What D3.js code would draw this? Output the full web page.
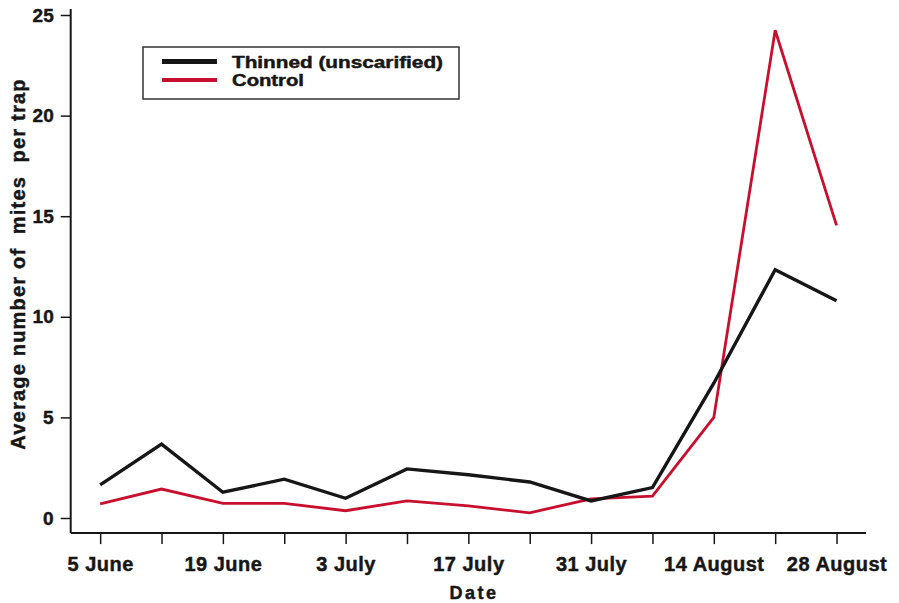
<!DOCTYPE html>
<html>
<head>
<meta charset="utf-8">
<script src="https://cdn.jsdelivr.net/npm/d3@7"></script>
<style>
  html, body { margin: 0; padding: 0; background: #fff; }
  svg { display: block; font-family: "Liberation Sans", Arial, sans-serif; font-weight: bold; }
  .heavy { paint-order: stroke; stroke: #161616; stroke-width: 0.45px; }
</style>
</head>
<body>
<svg id="chart" width="899" height="603"></svg>
<script>
// Weekly sampling dates (5 June to 28 August)
const dates = ["5 June", "12 June", "19 June", "26 June", "3 July", "10 July", "17 July",
               "24 July", "31 July", "7 August", "14 August", "21 August", "28 August"];
// Dates that carry a label on the x axis
const labelledDates = ["5 June", "19 June", "3 July", "17 July", "31 July", "14 August", "28 August"];
// Average number of mites per trap
const thinned = [1.65, 3.67, 1.28, 1.93, 0.98, 2.44, 2.15, 1.79, 0.85, 1.51, 6.7, 12.34, 10.8];
const control = [0.70, 1.44, 0.73, 0.73, 0.36, 0.85, 0.60, 0.26, 0.95, 1.09, 5.0, 24.24, 14.54];
const yTicks = [0, 5, 10, 15, 20, 25];
const seriesNames = ["Thinned (unscarified)", "Control"];

const svg = d3.select("#chart");

const x = d3.scaleLinear().domain([-0.48, dates.length - 1 + 0.48]).range([70.7, 866]);
const y = d3.scaleLinear().domain([0, 25]).range([518, 15]);
const yBottom = -0.75, yTop = 25.3;

const ink = "#161616";
const red = "#c8102e";

// Axis lines
svg.append("line")
  .attr("x1", x(x.domain()[0])).attr("x2", x(x.domain()[0]))
  .attr("y1", y(yTop)).attr("y2", y(yBottom))
  .attr("stroke", ink).attr("stroke-width", 2);
svg.append("line")
  .attr("x1", x(x.domain()[0])).attr("x2", x(x.domain()[1]))
  .attr("y1", y(yBottom)).attr("y2", y(yBottom))
  .attr("stroke", ink).attr("stroke-width", 2);

// Y axis
const yAxis = svg.append("g")
  .attr("transform", `translate(${x(x.domain()[0])},0)`)
  .call(d3.axisLeft(y).tickValues(yTicks).tickSize(10).tickPadding(7).tickFormat(d3.format("d")));
yAxis.select(".domain").remove();
yAxis.selectAll(".tick line").attr("stroke", ink).attr("stroke-width", 1.5);
yAxis.selectAll(".tick text")
  .attr("class", "heavy")
  .attr("fill", ink).attr("font-size", 19).attr("font-weight", "bold")
  .attr("font-family", "Liberation Sans, Arial, sans-serif");

// X axis
const xAxis = svg.append("g")
  .attr("transform", `translate(0,${y(yBottom)})`)
  .call(d3.axisBottom(x).tickValues(d3.range(dates.length)).tickSize(11).tickPadding(13)
    .tickFormat(i => labelledDates.includes(dates[i]) ? dates[i] : ""));
xAxis.select(".domain").remove();
xAxis.selectAll(".tick line").attr("stroke", ink).attr("stroke-width", 1.5);
xAxis.selectAll(".tick text")
  .attr("class", "heavy")
  .attr("fill", ink).attr("font-size", 20).attr("font-weight", "bold").attr("letter-spacing", 0.5)
  .attr("font-family", "Liberation Sans, Arial, sans-serif");

// Axis titles
svg.append("text")
  .attr("class", "heavy")
  .attr("transform", `translate(25,264) rotate(-90)`)
  .attr("text-anchor", "middle")
  .attr("font-size", 20).attr("letter-spacing", 1.2).attr("fill", ink)
  .attr("xml:space", "preserve")
  .text("Average number of  mites  per trap");
svg.append("text")
  .attr("class", "heavy")
  .attr("x", 474).attr("y", 599)
  .attr("text-anchor", "middle")
  .attr("font-size", 18).attr("letter-spacing", 2.5).attr("fill", ink)
  .text("Date");

// Series lines
const line = d3.line().x((d, i) => x(i)).y(d => y(d));
svg.append("path").datum(control)
  .attr("d", line).attr("fill", "none")
  .attr("stroke", red).attr("stroke-width", 2.8).attr("stroke-linejoin", "miter");
svg.append("path").datum(thinned)
  .attr("d", line).attr("fill", "none")
  .attr("stroke", ink).attr("stroke-width", 3.4).attr("stroke-linejoin", "miter");

// Legend
const legend = svg.append("g");
legend.append("rect")
  .attr("x", 143).attr("y", 47).attr("width", 316).attr("height", 52)
  .attr("fill", "none").attr("stroke", "#333").attr("stroke-width", 1.5);
const legendRows = [
  { name: seriesNames[0], color: ink, width: 5, y: 61.5, len: 211 },
  { name: seriesNames[1], color: red, width: 4, y: 80, len: 72 }
];
legendRows.forEach(r => {
  legend.append("line")
    .attr("x1", 162).attr("x2", 217).attr("y1", r.y).attr("y2", r.y)
    .attr("stroke", r.color).attr("stroke-width", r.width);
  legend.append("text")
    .attr("class", "heavy")
    .attr("x", 232).attr("y", r.y + 6)
    .attr("font-size", 16).attr("fill", ink)
    .attr("textLength", r.len).attr("lengthAdjust", "spacingAndGlyphs")
    .text(r.name);
});
</script>
</body>
</html>
